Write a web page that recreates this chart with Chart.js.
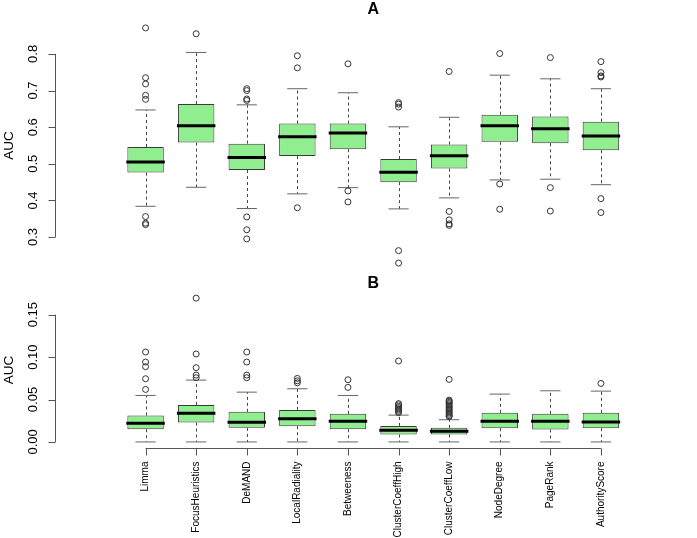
<!DOCTYPE html>
<html><head><meta charset="utf-8">
<script src="https://cdn.jsdelivr.net/npm/chart.js@4"></script>
<style>
html,body{margin:0;padding:0;background:#fff;}
#wrap{position:relative;width:697px;height:538px;background:#fff;}
canvas{position:absolute;left:0;top:0;}
</style>
</head><body>
<div id="wrap"><canvas id="ca" width="697" height="538"></canvas><canvas id="cb" width="697" height="538"></canvas></div>
<script>
const categories = ['Limma','FocusHeuristics','DeMAND','LocalRadiality','Betweeness','ClusterCoeffHigh','ClusterCoeffLow','NodeDegree','PageRank','AuthorityScore'];

// Panel A
const aLow  = [0.384,0.436,0.378,0.418,0.435,0.377,0.407,0.456,0.458,0.443];
const aQ1   = [0.476,0.558,0.483,0.521,0.540,0.450,0.487,0.560,0.556,0.537];
const aMed  = [0.505,0.604,0.517,0.574,0.584,0.477,0.522,0.604,0.596,0.576];
const aQ3   = [0.546,0.663,0.555,0.610,0.610,0.513,0.553,0.634,0.629,0.615];
const aHigh = [0.647,0.804,0.661,0.705,0.694,0.601,0.627,0.742,0.732,0.705];
const aOut  = [
  [0.871,0.735,0.718,0.687,0.676,0.356,0.338,0.334],
  [0.855],
  [0.705,0.700,0.677,0.673,0.355,0.320,0.295],
  [0.795,0.762,0.380],
  [0.773,0.426,0.396],
  [0.667,0.663,0.655,0.263,0.229],
  [0.752,0.370,0.347,0.336,0.332],
  [0.801,0.445,0.376],
  [0.790,0.435,0.371],
  [0.779,0.749,0.740,0.737,0.405,0.367]
];
const aTicks = [0.3,0.4,0.5,0.6,0.7,0.8];
const aTickLabels = ['0.3','0.4','0.5','0.6','0.7','0.8'];

// Panel B
const bLow  = [0,0,0,0,0,0,0,0,0,0];
const bQ1   = [0.0150,0.0229,0.0166,0.0186,0.0150,0.0087,0.0087,0.0162,0.0147,0.0162];
const bMed  = [0.0221,0.0339,0.0233,0.0272,0.0245,0.0138,0.0126,0.0245,0.0245,0.0236];
const bQ3   = [0.0312,0.0437,0.0355,0.0378,0.0331,0.0189,0.0166,0.0343,0.0331,0.0343];
const bHigh = [0.0548,0.0729,0.0587,0.0627,0.0548,0.0316,0.0262,0.0564,0.0603,0.0599];
const bOut  = [
  [0.106,0.0942,0.0887,0.0745,0.0619],
  [0.1695,0.1037,0.0875,0.0788,0.0757],
  [0.106,0.0942,0.0788,0.0757],
  [0.0749,0.0721,0.0697],
  [0.0733,0.0643],
  [0.0954,0.0452,0.0438,0.0420,0.0405,0.0390,0.0375,0.0360,0.0345],
  [0.0737,0.0493,0.0480,0.0466,0.0452,0.0437,0.0420,0.0405,0.0390,0.0374,0.0358,0.0342,0.0326,0.0310,0.0298],
  [],
  [],
  [0.069]
];
const bTicks = [0,0.05,0.10,0.15];
const bTickLabels = ['0.00','0.05','0.10','0.15'];

const FONT = '"Liberation Sans", Arial, Helvetica, sans-serif';

function dataRange(lo, hi, out) {
  const all = lo.concat(hi, out.flat());
  const mn = Math.min(...all), mx = Math.max(...all);
  const ext = (mx - mn) * 0.04;
  return [mn - ext, mx + ext];
}

const boxPlugin = {
  id: 'boxPlugin',
  beforeDatasetsDraw(chart) {
    const p = chart.options.plugins.boxPlugin;
    const xs = chart.scales.x, ys = chart.scales.y, ctx = chart.ctx;
    ctx.save();
    for (let i = 0; i < categories.length; i++) {
      const cx = Math.round(xs.getPixelForValue(i + 1)) + 0.5;
      ctx.strokeStyle = '#444';
      ctx.lineWidth = 1;
      ctx.setLineDash([3, 3]);
      ctx.beginPath();
      ctx.moveTo(cx, ys.getPixelForValue(p.q3[i]));
      ctx.lineTo(cx, ys.getPixelForValue(p.high[i]));
      ctx.moveTo(cx, ys.getPixelForValue(p.q1[i]));
      ctx.lineTo(cx, ys.getPixelForValue(p.low[i]));
      ctx.stroke();
      ctx.setLineDash([]);
      ctx.strokeStyle = '#666';
      const sl = xs.getPixelForValue(i + 1 - 0.2), sr = xs.getPixelForValue(i + 1 + 0.2);
      ctx.beginPath();
      ctx.moveTo(sl, ys.getPixelForValue(p.high[i]));
      ctx.lineTo(sr, ys.getPixelForValue(p.high[i]));
      ctx.moveTo(sl, ys.getPixelForValue(p.low[i]));
      ctx.lineTo(sr, ys.getPixelForValue(p.low[i]));
      ctx.stroke();
    }
    ctx.restore();
  },
  afterDatasetsDraw(chart) {
    const p = chart.options.plugins.boxPlugin;
    const xs = chart.scales.x, ys = chart.scales.y, ctx = chart.ctx;
    const area = chart.chartArea;
    ctx.save();
    ctx.strokeStyle = '#000';
    ctx.lineWidth = 3;
    for (let i = 0; i < categories.length; i++) {
      const y = ys.getPixelForValue(p.med[i]);
      ctx.beginPath();
      ctx.moveTo(xs.getPixelForValue(i + 1 - 0.4) + 1, y);
      ctx.lineTo(xs.getPixelForValue(i + 1 + 0.4) - 1, y);
      ctx.stroke();
    }
    ctx.strokeStyle = '#555';
    ctx.lineWidth = 1;
    const ax = Math.round(area.left) + 0.5;
    ctx.beginPath();
    ctx.moveTo(ax, ys.getPixelForValue(p.ticks[0]));
    ctx.lineTo(ax, ys.getPixelForValue(p.ticks[p.ticks.length - 1]));
    p.ticks.forEach(t => {
      const y = Math.round(ys.getPixelForValue(t)) + 0.5;
      ctx.moveTo(ax, y);
      ctx.lineTo(ax - 7, y);
    });
    ctx.stroke();
    ctx.fillStyle = '#000';
    ctx.font = '13px ' + FONT;
    ctx.textAlign = 'center';
    ctx.textBaseline = 'middle';
    p.ticks.forEach((t, k) => {
      ctx.save();
      ctx.translate(33.5, ys.getPixelForValue(t));
      ctx.rotate(-Math.PI / 2);
      ctx.fillText(p.tickLabels[k], 0, 0);
      ctx.restore();
    });
    ctx.font = '13.5px ' + FONT;
    ctx.save();
    ctx.translate(9, (area.top + area.bottom) / 2);
    ctx.rotate(-Math.PI / 2);
    ctx.fillText('AUC', 0, 0);
    ctx.restore();
    ctx.font = 'bold 16px ' + FONT;
    ctx.fillText(p.title, (area.left + area.right) / 2, p.titleY);
    if (p.showX) {
      const by = Math.round(area.bottom) + 0.5;
      ctx.beginPath();
      ctx.moveTo(xs.getPixelForValue(1), by);
      ctx.lineTo(xs.getPixelForValue(categories.length), by);
      for (let i = 0; i < categories.length; i++) {
        const x = Math.round(xs.getPixelForValue(i + 1)) + 0.5;
        ctx.moveTo(x, by);
        ctx.lineTo(x, by + 7);
      }
      ctx.stroke();
      ctx.font = '10px ' + FONT;
      ctx.textAlign = 'right';
      ctx.textBaseline = 'middle';
      for (let i = 0; i < categories.length; i++) {
        ctx.save();
        ctx.translate(xs.getPixelForValue(i + 1), by + 13);
        ctx.rotate(-Math.PI / 2);
        ctx.fillText(categories[i], 0, 0);
        ctx.restore();
      }
    }
    ctx.restore();
  }
};

function makeChart(id, cfg) {
  const yr = dataRange(cfg.low, cfg.high, cfg.out);
  const boxes = categories.map((c, i) => ({ x: i + 1, y: [cfg.q1[i], cfg.q3[i]] }));
  const outs = [];
  cfg.out.forEach((arr, i) => arr.forEach(v => outs.push({ x: i + 1, y: v })));
  return new Chart(document.getElementById(id), {
    type: 'bar',
    data: {
      datasets: [
        {
          type: 'bar',
          data: boxes,
          backgroundColor: '#90EE90',
          borderColor: '#3a3a3a',
          borderWidth: 1,
          borderSkipped: false,
          categoryPercentage: 0.8,
          barPercentage: 1.0,
          order: 2
        },
        {
          type: 'scatter',
          data: outs,
          pointRadius: 3,
          pointBorderWidth: 1,
          pointBorderColor: '#333',
          pointBackgroundColor: 'rgba(0,0,0,0)',
          clip: false,
          order: 1
        }
      ]
    },
    options: {
      responsive: false,
      animation: false,
      devicePixelRatio: 1,
      events: [],
      layout: { padding: cfg.padding },
      scales: {
        x: { type: 'linear', min: 0.1, max: 10.9, display: false },
        y: { type: 'linear', min: yr[0], max: yr[1], display: false }
      },
      plugins: {
        legend: { display: false },
        tooltip: { enabled: false },
        boxPlugin: {
          q1: cfg.q1, q3: cfg.q3, med: cfg.med, low: cfg.low, high: cfg.high,
          ticks: cfg.ticks, tickLabels: cfg.tickLabels, title: cfg.title,
          titleY: cfg.titleY, showX: cfg.showX
        }
      }
    },
    plugins: [boxPlugin]
  });
}

makeChart('ca', {
  low: aLow, q1: aQ1, med: aMed, q3: aQ3, high: aHigh, out: aOut,
  ticks: aTicks, tickLabels: aTickLabels, title: 'A', titleY: 10, showX: false,
  padding: { left: 54.5, right: 0.5, top: 18.5, bottom: 265.5 }
});
makeChart('cb', {
  low: bLow, q1: bQ1, med: bMed, q3: bQ3, high: bHigh, out: bOut,
  ticks: bTicks, tickLabels: bTickLabels, title: 'B', titleY: 284, showX: true,
  padding: { left: 54.5, right: 0.5, top: 292.4, bottom: 90.3 }
});
</script>
</body></html>
